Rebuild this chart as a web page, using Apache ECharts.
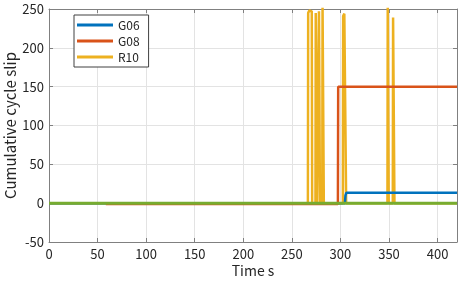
<!DOCTYPE html>
<html>
<head>
<meta charset="utf-8">
<script src="https://cdn.jsdelivr.net/npm/echarts@6/dist/echarts.min.js"></script>
<style>html,body{margin:0;padding:0;background:#fff}#c{width:463px;height:283px}</style>
</head>
<body>
<div id="c"></div>
<script>
const xTicks = [0, 50, 100, 150, 200, 250, 300, 350, 400];
const yTicks = [-50, 0, 50, 100, 150, 200, 250];
const seriesNames = ['G06', 'G08', 'R10'];
const g06 = [[0,0],[304.6,0],[305.2,10],[306.2,13.5],[420,13.5]];
const g08 = [[58.5,-1],[297.4,-1],[297.7,150],[420,150]];
const r10 = [[0,0],[266.5,0],[266.8,245],[268,248],[270.5,247],[270.9,0],[274.3,0],[274.6,245],[275.5,246],[275.9,0],[277.6,0],[277.9,247],[278.6,247],[278.9,0],[281.3,0],[281.6,255],[282.6,255],[282.9,0],[302.5,0],[302.8,241],[304,244],[305.5,245],[305.9,0],[348.4,0],[348.7,255],[349.4,255],[349.7,0],[353.9,0],[354.2,239],[355.3,239],[355.6,0],[420,0]];
const other = [[0,0],[420,0]];

const font = 'Noto Sans CJK JP';
const axisCol = '#808080';
const txtCol = '#262626';
const chart = echarts.init(document.getElementById('c'), null, {renderer:'canvas'});
const baseX = {type:'value', min:xTicks[0], max:420, interval:50, gridIndex:0};
const baseY = {type:'value', min:yTicks[0], max:yTicks[yTicks.length-1], interval:50, gridIndex:0};
chart.setOption({
  animation:false,
  backgroundColor:'#fff',
  grid:{left:49, right:6, top:9, bottom:41, containLabel:false, outerBoundsMode:'none'},
  legend:{
    data:seriesNames, orient:'vertical', left:74, top:15,
    padding:[4,9,4,3], itemGap:4, itemWidth:36, itemHeight:3, icon:'rect',
    borderColor:'#404040', borderWidth:1, backgroundColor:'#fff',
    textStyle:{fontFamily:font, fontSize:12, color:txtCol, lineHeight:12}
  },
  xAxis:[
    Object.assign({}, baseX, {
      position:'bottom', name:'Time s', nameLocation:'middle', nameGap:22, nameMoveOverlap:false,
      nameTextStyle:{fontFamily:font, fontSize:14, color:txtCol},
      axisLine:{show:true, onZero:false, lineStyle:{color:axisCol, width:1}},
      axisTick:{show:true, inside:true, length:4, lineStyle:{color:axisCol}},
      axisLabel:{fontFamily:font, fontSize:13, color:txtCol, margin:6},
      splitLine:{show:true, lineStyle:{color:'#e3e3e3', width:1}}
    }),
    Object.assign({}, baseX, {
      position:'top',
      axisLine:{show:true, onZero:false, lineStyle:{color:axisCol, width:1}},
      axisTick:{show:true, inside:true, length:4, lineStyle:{color:axisCol}},
      axisLabel:{show:false}, splitLine:{show:false}
    })
  ],
  yAxis:[
    Object.assign({}, baseY, {
      position:'left', name:'Cumulative cycle slip', nameLocation:'middle', nameGap:31, nameMoveOverlap:false,
      nameTextStyle:{fontFamily:font, fontSize:15, color:txtCol, lineHeight:16},
      axisLine:{show:true, onZero:false, lineStyle:{color:axisCol, width:1}},
      axisTick:{show:true, inside:true, length:4, lineStyle:{color:axisCol}},
      axisLabel:{fontFamily:font, fontSize:13, color:txtCol, margin:5},
      splitLine:{show:true, lineStyle:{color:'#e3e3e3', width:1}}
    }),
    Object.assign({}, baseY, {
      position:'right',
      axisLine:{show:true, onZero:false, lineStyle:{color:axisCol, width:1}},
      axisTick:{show:true, inside:true, length:4, lineStyle:{color:axisCol}},
      axisLabel:{show:false}, splitLine:{show:false}
    })
  ],
  series:[
    {name:'G06', type:'line', data:g06, xAxisIndex:0, yAxisIndex:0, showSymbol:false, symbol:'none', z:3,
     lineStyle:{color:'#0072BD', width:2.5}, itemStyle:{color:'#0072BD'}},
    {name:'G08', type:'line', data:g08, xAxisIndex:0, yAxisIndex:0, showSymbol:false, symbol:'none', z:4,
     lineStyle:{color:'#D95319', width:2.5}, itemStyle:{color:'#D95319'}},
    {name:'R10', type:'line', data:r10, xAxisIndex:0, yAxisIndex:0, showSymbol:false, symbol:'none', z:2,
     lineStyle:{color:'#EDB120', width:2.5}, itemStyle:{color:'#EDB120'}},
    {name:'other', type:'line', data:other, xAxisIndex:0, yAxisIndex:0, showSymbol:false, symbol:'none', z:5,
     lineStyle:{color:'#77AC30', width:3}, itemStyle:{color:'#77AC30'}}
  ]
});
</script>
</body>
</html>
